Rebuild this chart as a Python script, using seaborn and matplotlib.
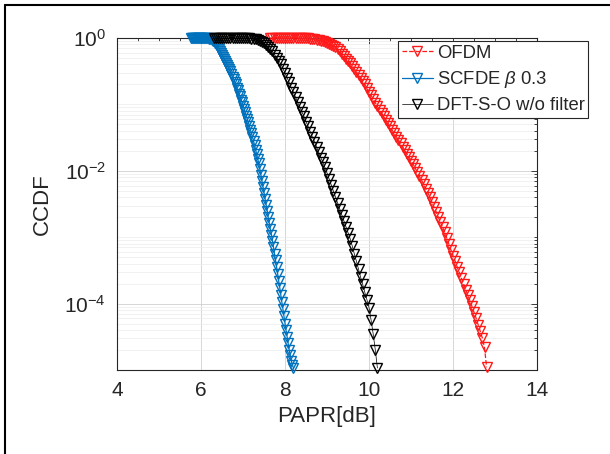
import numpy as np
import pandas as pd
import seaborn as sns
import matplotlib.pyplot as plt
from matplotlib.ticker import FixedLocator, NullFormatter, LogFormatterMathtext, MultipleLocator
from matplotlib.lines import Line2D

# PAPR grids (dB): start and step of each curve
blue_start, blue_step = 5.75, 0.025
black_start, black_step = 6.30, 0.05
red_start, red_step = 7.65, 0.05

# log10(CCDF)
blue_log_ccdf = [0.0] * 17 + [
    -0.005, -0.01, -0.02, -0.03, -0.04, -0.05, -0.07, -0.09, -0.11, -0.13,
    -0.16, -0.19, -0.22, -0.25, -0.28, -0.31, -0.34, -0.37, -0.40, -0.43,
    -0.47, -0.50, -0.54, -0.58, -0.62, -0.66, -0.70, -0.75, -0.79, -0.84,
    -0.88, -0.93, -0.97, -1.02, -1.07, -1.12, -1.17, -1.22, -1.27, -1.32,
    -1.38, -1.43, -1.49, -1.55, -1.61, -1.68, -1.75, -1.82, -1.89, -1.97,
    -2.06, -2.15, -2.24, -2.33, -2.42, -2.51, -2.60, -2.70, -2.79, -2.88,
    -2.96, -3.05, -3.15, -3.25, -3.35, -3.45, -3.55, -3.66, -3.76, -3.87,
    -3.98, -4.08, -4.19, -4.30, -4.40, -4.50, -4.60, -4.70, -4.78, -4.86,
    -4.92, -4.97]

black_log_ccdf = [0.0] * 18 + [
    -0.01, -0.015, -0.02, -0.03, -0.04, -0.06, -0.08, -0.10, -0.13, -0.16,
    -0.20, -0.25, -0.30, -0.34, -0.39, -0.46, -0.53, -0.60, -0.67, -0.75,
    -0.82, -0.89, -0.97, -1.04, -1.11, -1.18, -1.26, -1.33, -1.41, -1.49,
    -1.56, -1.64, -1.72, -1.80, -1.87, -1.95, -2.03, -2.12, -2.21, -2.30,
    -2.39, -2.48, -2.57, -2.66, -2.75, -2.84, -2.93, -3.02, -3.13, -3.25,
    -3.36, -3.48, -3.60, -3.71, -3.83, -3.94, -4.06, -4.25, -4.46, -4.70,
    -4.97]

red_log_ccdf = [0.0] * 18 + [
    -0.005, -0.01, -0.015, -0.02, -0.025, -0.03, -0.04, -0.05, -0.06, -0.07,
    -0.085, -0.10, -0.12, -0.14, -0.17, -0.20, -0.235, -0.27, -0.31, -0.345,
    -0.38, -0.42, -0.465, -0.51, -0.555, -0.60, -0.65, -0.70, -0.755, -0.81,
    -0.865, -0.92, -0.975, -1.03, -1.08, -1.13, -1.18, -1.23, -1.28, -1.33,
    -1.385, -1.435, -1.485, -1.535, -1.585, -1.635, -1.69, -1.74, -1.79, -1.845,
    -1.90, -1.96, -2.02, -2.08, -2.14, -2.20, -2.27, -2.33, -2.40, -2.47,
    -2.55, -2.62, -2.70, -2.77, -2.85, -2.92, -3.01, -3.10, -3.19, -3.28,
    -3.36, -3.45, -3.53, -3.62, -3.70, -3.79, -3.87, -3.95, -4.04, -4.13,
    -4.22, -4.32, -4.42, -4.52, -4.66, -4.96]

labels = ['OFDM', r'SCFDE $\beta$ 0.3', 'DFT-S-O w/o filter']
colors = ['#ff1a1a', '#0072bd', '#000000']


def make_curve(start, step, log_ccdf):
    n = len(log_ccdf)
    return pd.DataFrame({'papr': np.round(start + step * np.arange(n), 3),
                         'ccdf': 10.0 ** np.array(log_ccdf)})


curves = [make_curve(red_start, red_step, red_log_ccdf),
          make_curve(blue_start, blue_step, blue_log_ccdf),
          make_curve(black_start, black_step, black_log_ccdf)]
styles = [('--', 0.9), ('-', 0.9), ('-', 0.5)]

sns.set_theme(style='white')
plt.rcParams['font.family'] = ['Liberation Sans', 'DejaVu Sans']
plt.rcParams['mathtext.fontset'] = 'custom'
plt.rcParams['mathtext.rm'] = 'Liberation Sans'
plt.rcParams['mathtext.it'] = 'Liberation Sans:italic'
plt.rcParams['axes.unicode_minus'] = False
txt = '#262626'

fig = plt.figure(figsize=(6.10, 4.54), dpi=100)
ax = fig.add_axes([117 / 610, 1 - 370 / 454, 420 / 610, 332 / 454])

for df, lab, col, (ls, lw) in zip(curves, labels, colors, styles):
    sns.lineplot(data=df, x='papr', y='ccdf', ax=ax, label=lab, color=col,
                 linestyle=ls, linewidth=lw, marker='v', markersize=6.5,
                 markerfacecolor='none', markeredgecolor=col,
                 markeredgewidth=1.0, clip_on=False, zorder=3)

ax.set_yscale('log')
ax.set_xlim(4, 14)
ax.set_ylim(1e-5, 1)
ax.xaxis.set_major_locator(MultipleLocator(2))
ax.xaxis.set_minor_locator(MultipleLocator(0.5))
ax.yaxis.set_major_locator(FixedLocator([1e-4, 1e-2, 1]))
ax.yaxis.set_major_formatter(LogFormatterMathtext())
minor = [m * 10.0 ** e for e in range(-5, 0) for m in range(1, 10) if not (m == 1 and e % 2 == 0)]
ax.yaxis.set_minor_locator(FixedLocator(minor))
ax.yaxis.set_minor_formatter(NullFormatter())

ax.grid(True, which='major', color='#d0d0d0', linewidth=0.6)
ax.grid(True, which='minor', axis='y', color='#ececec', linewidth=0.5)
ax.set_axisbelow(True)
ax.tick_params(which='both', direction='in', top=True, right=True,
               colors=txt, labelsize=15, width=0.6)
ax.tick_params(which='major', length=4, pad=8)
ax.tick_params(which='minor', length=2.5)
for s in ax.spines.values():
    s.set_color(txt)
    s.set_linewidth(0.8)

ax.set_xlabel('PAPR[dB]', fontsize=16, color=txt, labelpad=4)
ax.set_ylabel('CCDF', fontsize=16, color=txt, labelpad=8)

handles, _ = ax.get_legend_handles_labels()
leg = ax.legend(handles=handles, labels=labels, loc='upper left',
                bbox_to_anchor=(398 / 610, 1 - 41 / 454),
                bbox_transform=fig.transFigure, fontsize=13.3,
                frameon=True, fancybox=False, framealpha=1,
                edgecolor=txt, borderpad=0.2, labelspacing=0.4,
                handlelength=1.7, handletextpad=0.2, borderaxespad=0)
leg.get_frame().set_linewidth(0.8)
for t in leg.get_texts():
    t.set_color(txt)

# frame of the original screenshot
fig.add_artist(Line2D([5 / 610, 5 / 610], [0, 1 - 5 / 454], color='black', lw=1.5))
fig.add_artist(Line2D([5 / 610, 1], [1 - 5 / 454, 1 - 5 / 454], color='black', lw=1.5))

fig.savefig('out.png', dpi=100)
